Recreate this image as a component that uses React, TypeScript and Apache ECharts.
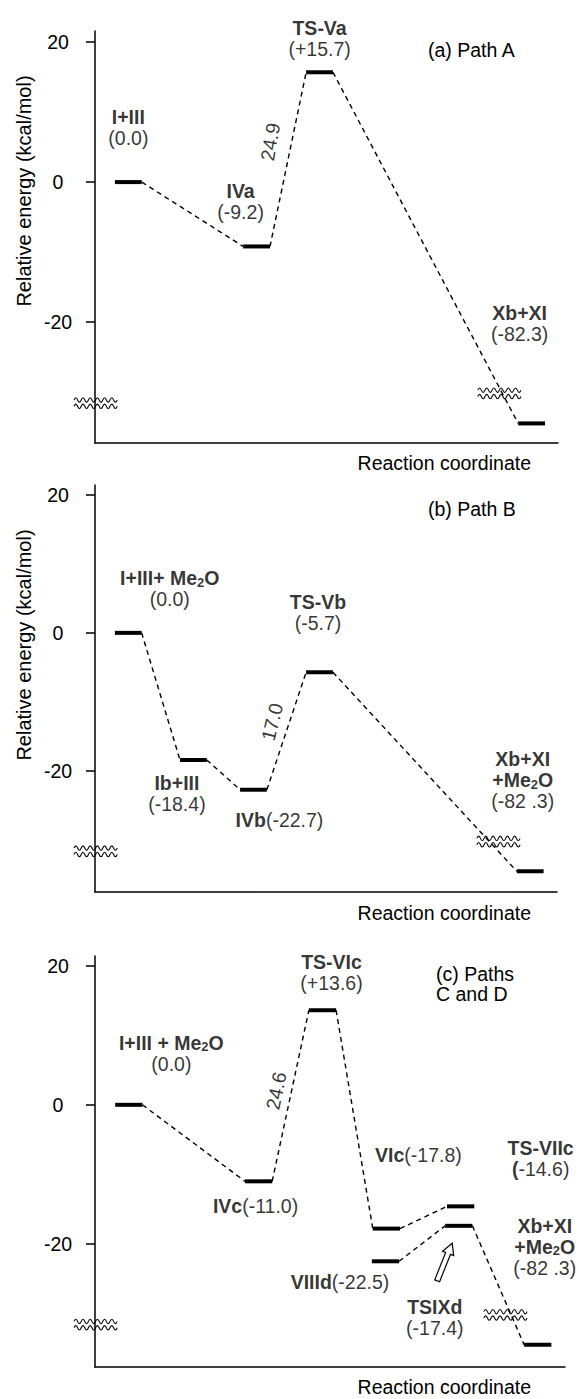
import React, { useEffect, useRef } from "react";
import * as echarts from "echarts";

const FONT = '"Liberation Sans", Arial, Helvetica, sans-serif';
const FS = 19.5;
const LH = 21;

// ---------- shared axis data ----------
const Y_TICKS = [-20, 0, 20];
const X_NAME = "Reaction coordinate";
const Y_NAME = "Relative energy (kcal/mol)";
const BREAK_PLOT_Y = -34.5; // where the off-scale products (-82.3) sit below the axis break
const LEVEL_WIDTH = 5.8; // reaction-coordinate width of each level

// ---------- (a) Path A ----------
const A_NAMES = ["I+III", "IVa", "TS-Va", "Xb+XI"];
const A_ENERGY = [0.0, -9.2, 15.7, -82.3];
const A_STAGE = [4.3, 32.0, 45.6, 91.4];
const A_LINKS = [[0, 1], [1, 2], [2, 3]];
const A_BARRIER = { from: 1, to: 2, text: "24.9" };
const A_TITLE = "(a) Path A";

// ---------- (b) Path B ----------
const B_NAMES = ["I+III+ Me2O", "Ib+III", "IVb", "TS-Vb", "Xb+XI\n+Me2O"];
const B_ENERGY = [0.0, -18.4, -22.7, -5.7, -82.3];
const B_STAGE = [4.3, 18.4, 31.4, 45.7, 91.3];
const B_LINKS = [[0, 1], [1, 2], [2, 3], [3, 4]];
const B_BARRIER = { from: 2, to: 3, text: "17.0" };
const B_TITLE = "(b) Path B";

// ---------- (c) Paths C and D ----------
const C_NAMES = ["I+III + Me2O", "IVc", "TS-VIc", "VIc", "VIIId", "TS-VIIc", "TSIXd", "Xb+XI\n+Me2O"];
const C_ENERGY = [0.0, -11.0, 13.6, -17.8, -22.5, -14.6, -17.4, -82.3];
const C_STAGE = [4.3, 31.9, 45.5, 59.1, 58.9, 74.9, 74.5, 91.3];
const C_LINKS = [[0, 1], [1, 2], [2, 3], [3, 5], [4, 6], [6, 7]];
const C_BARRIER = { from: 1, to: 2, text: "24.6" };
const C_TITLE = "(c) Paths\nC and D";

// axis-break marks (reaction coordinate, energy on the drawn scale)
const BREAKS = [[0, -31.6], [87.2, -30.2]];
// hollow arrow pointing at TSIXd (panel c), in axis units
const ARROW_C = [72.8, -25.3, 76.0, -19.9];

// ---------- layout (positions / styles only) ----------
const A_LABEL = [
  { mode: "stack", off: [0, -55] },
  { mode: "stack", off: [-16, -45] },
  { mode: "stack", off: [0, -34] },
  { mode: "stack", off: [-12, -100] },
];
const B_LABEL = [
  { mode: "stack", off: [41.5, -44] },
  { mode: "stack", off: [-16.5, 33] },
  { mode: "inline", off: [26, 30] },
  { mode: "stack", off: [-1.5, -59.5] },
  { mode: "stack", off: [-7.5, -91], gap: true },
];
const C_LABEL = [
  { mode: "stack", off: [42.5, -51.5] },
  { mode: "inline", off: [-3, 24.5] },
  { mode: "stack", off: [9, -38] },
  { mode: "inline", off: [32, -73.7] },
  { mode: "inline", off: [-45.5, 20.6] },
  { mode: "stack", off: [80, -48], boldParen: true },
  { mode: "stack", off: [-24, 92] },
  { mode: "stack", off: [7, -98], gap: true },
];

const PANELS = [
  {
    names: A_NAMES, energy: A_ENERGY, stage: A_STAGE, links: A_LINKS, barrier: A_BARRIER,
    labels: A_LABEL, barrierOff: [-18, -17.5], barrierRot: 80,
    grid: { left: 95, top: 31, width: 463, height: 412 }, yMin: -37.3, yMax: 21.6,
    title: A_TITLE, titlePos: [428, 50], xNameY: 463, yName: true, yNamePos: [24, 191],
  },
  {
    names: B_NAMES, energy: B_ENERGY, stage: B_STAGE, links: B_LINKS, barrier: B_BARRIER,
    labels: B_LABEL, barrierOff: [-14.5, -9], barrierRot: 76,
    grid: { left: 95, top: 485, width: 462, height: 407 }, yMin: -37.5, yMax: 21.4,
    title: B_TITLE, titlePos: [428, 509], xNameY: 913, yName: true, yNamePos: [24, 645],
  },
  {
    names: C_NAMES, energy: C_ENERGY, stage: C_STAGE, links: C_LINKS, barrier: C_BARRIER,
    labels: C_LABEL, barrierOff: [-14.5, -5], barrierRot: 78,
    grid: { left: 95, top: 956, width: 470, height: 411 }, yMin: -37.7, yMax: 21.4,
    title: C_TITLE, titlePos: [436, 984], xNameY: 1387, yName: false, yNamePos: [24, 0],
  },
];

const RICH = {
  b: { fontFamily: FONT, fontWeight: "bold", fontSize: FS, lineHeight: LH, color: "#000" },
  n: { fontFamily: FONT, fontWeight: "normal", fontSize: FS, lineHeight: LH, color: "#000" },
  s: { fontFamily: FONT, fontWeight: "bold", fontSize: 13, lineHeight: 13, verticalAlign: "bottom", color: "#000" },
};

function richBold(t: string): string {
  const parts = t.split("Me2O");
  return parts.map((p) => (p ? `{b|${p}}` : "")).join("{b|Me}{s|2}{b|O}");
}

function valueText(e: number, opt: any): string {
  let s = e > 0 ? `+${e.toFixed(1)}` : e.toFixed(1);
  if (opt.gap) s = s.replace(".", " .");
  if (opt.boldParen) return `{b|(}{n|${s})}`;
  return `{n|(${s})}`;
}

function labelText(name: string, e: number, opt: any): string {
  if (opt.mode === "inline") return richBold(name) + valueText(e, opt);
  const lines = name.split("\n").map(richBold);
  lines.push(valueText(e, opt));
  return lines.join("\n");
}

// label offsets are applied in the rotated frame: convert a screen offset
function rotatedOffset(off: number[], deg: number): number[] {
  const t = (deg * Math.PI) / 180;
  const c = Math.cos(t), s = Math.sin(t);
  return [off[0] * c - off[1] * s, off[0] * s + off[1] * c];
}

function wavePath(): string {
  const w = 42, half = 3.6, amp = 2.2;
  let d = "";
  [-3.2, 3.2].forEach((oy) => {
    let x = -w / 2;
    let up = true;
    d += `M${x},${oy}`;
    while (x < w / 2 - 0.01) {
      d += ` Q${x + half / 2},${oy + (up ? -amp * 2 : amp * 2)} ${x + half},${oy}`;
      x += half;
      up = !up;
    }
    d += " ";
  });
  return d;
}
const WAVE_D = wavePath();

function buildOption() {
  const grid: any[] = [];
  const xAxis: any[] = [];
  const yAxis: any[] = [];
  const series: any[] = [];
  const graphic: any[] = [];

  PANELS.forEach((P, p) => {
    grid.push({ ...P.grid, containLabel: false, outerBoundsMode: "none" });
    xAxis.push({
      gridIndex: p, type: "value", min: 0, max: 100,
      axisLine: { show: true, onZero: false, lineStyle: { color: "#000", width: 1.5 } },
      axisTick: { show: false }, axisLabel: { show: false }, splitLine: { show: false },
    });
    yAxis.push({
      gridIndex: p, type: "value", min: P.yMin, max: P.yMax,
      axisLine: { show: true, onZero: false, lineStyle: { color: "#000", width: 1.5 } },
      axisTick: { show: true, inside: false, length: 9, customValues: Y_TICKS, lineStyle: { color: "#000", width: 1.5 } },
      axisLabel: {
        show: true, customValues: Y_TICKS, formatter: (v: number) => String(v),
        align: "center", margin: 37, color: "#000", fontSize: FS, fontFamily: FONT,
      },
      splitLine: { show: false },
    });

    const plotY = P.energy.map((e) => (e < P.yMin ? BREAK_PLOT_Y : e));
    const texts = P.names.map((n, i) => labelText(n, P.energy[i], P.labels[i]));

    // dashed connectors
    series.push({
      type: "custom", xAxisIndex: p, yAxisIndex: p, silent: true, clip: false, z: 2,
      data: P.links.map(([i, j]) => [P.stage[i] + LEVEL_WIDTH, plotY[i], P.stage[j], plotY[j]]),
      encode: { x: [0, 2], y: [1, 3] },
      renderItem: (params: any, api: any) => {
        const a = api.coord([api.value(0), api.value(1)]);
        const b = api.coord([api.value(2), api.value(3)]);
        return {
          type: "line",
          shape: { x1: a[0], y1: a[1], x2: b[0], y2: b[1] },
          style: { stroke: "#000", lineWidth: 1.4, lineDash: [5, 4], fill: "none" },
        };
      },
    });

    // energy levels
    series.push({
      type: "custom", xAxisIndex: p, yAxisIndex: p, silent: true, clip: false, z: 3,
      data: P.stage.map((x, i) => [x, x + LEVEL_WIDTH, plotY[i]]),
      encode: { x: [0, 1], y: 2 },
      renderItem: (params: any, api: any) => {
        const a = api.coord([api.value(0), api.value(2)]);
        const b = api.coord([api.value(1), api.value(2)]);
        return {
          type: "line",
          shape: { x1: a[0], y1: a[1], x2: b[0], y2: b[1] },
          style: { stroke: "#000", lineWidth: 4 },
        };
      },
    });

    // axis breaks
    series.push({
      type: "custom", xAxisIndex: p, yAxisIndex: p, silent: true, clip: false, z: 4,
      data: BREAKS,
      encode: { x: 0, y: 1 },
      renderItem: (params: any, api: any) => {
        const c = api.coord([api.value(0), api.value(1)]);
        return {
          type: "path", x: c[0], y: c[1],
          shape: { pathData: WAVE_D },
          style: { stroke: "#000", fill: "none", lineWidth: 1.1 },
        };
      },
    });

    // level labels
    series.push({
      type: "scatter", xAxisIndex: p, yAxisIndex: p, silent: true, clip: false, z: 5,
      symbolSize: 1, itemStyle: { color: "rgba(0,0,0,0)" },
      label: {
        show: true, position: "inside", color: "#000", fontFamily: FONT, fontSize: FS, lineHeight: LH,
        rich: RICH, formatter: (prm: any) => texts[prm.dataIndex],
      },
      data: P.stage.map((x, i) => ({
        value: [x + LEVEL_WIDTH / 2, plotY[i]],
        label: { offset: P.labels[i].off },
      })),
    });

    // barrier label
    const bi = P.barrier.from, bj = P.barrier.to;
    series.push({
      type: "scatter", xAxisIndex: p, yAxisIndex: p, silent: true, clip: false, z: 5,
      symbolSize: 1, itemStyle: { color: "rgba(0,0,0,0)" },
      label: {
        show: true, position: "inside", color: "#000", fontFamily: FONT, fontSize: FS,
        rotate: P.barrierRot, offset: rotatedOffset(P.barrierOff, P.barrierRot),
        formatter: () => P.barrier.text,
      },
      data: [[(P.stage[bi] + LEVEL_WIDTH + P.stage[bj]) / 2, (plotY[bi] + plotY[bj]) / 2]],
    });

    // titles & axis names
    graphic.push({
      type: "text", x: P.titlePos[0], y: P.titlePos[1], silent: true,
      style: {
        text: P.title, fill: "#000", fontSize: FS, fontFamily: FONT, lineHeight: 20,
        align: "left", verticalAlign: "middle", textAlign: "left", textVerticalAlign: "middle",
      },
    });
    graphic.push({
      type: "text", x: 531, y: P.xNameY, silent: true,
      style: {
        text: X_NAME, fill: "#000", fontSize: FS, fontFamily: FONT,
        align: "right", verticalAlign: "middle", textAlign: "right", textVerticalAlign: "middle",
      },
    });
    if (P.yName) {
      graphic.push({
        type: "text", x: P.yNamePos[0], y: P.yNamePos[1], rotation: Math.PI / 2, silent: true,
        style: {
          text: Y_NAME, fill: "#000", fontSize: 20, fontFamily: FONT,
          align: "center", verticalAlign: "middle", textAlign: "center", textVerticalAlign: "middle",
        },
      });
    }
  });

  // hollow arrow to TSIXd (panel c)
  series.push({
    type: "custom", xAxisIndex: 2, yAxisIndex: 2, silent: true, clip: false, z: 6,
    data: [ARROW_C],
    encode: { x: [0, 2], y: [1, 3] },
    renderItem: (params: any, api: any) => {
      const t = api.coord([api.value(0), api.value(1)]);
      const h = api.coord([api.value(2), api.value(3)]);
      const dx = h[0] - t[0], dy = h[1] - t[1];
      const L = Math.sqrt(dx * dx + dy * dy);
      const ux = dx / L, uy = dy / L;
      const nx = -uy, ny = ux;
      const sw = 2.6, hw = 6, hl = 11;
      const bx = h[0] - ux * hl, by = h[1] - uy * hl;
      const pts = [
        [t[0] + nx * sw, t[1] + ny * sw],
        [bx + nx * sw, by + ny * sw],
        [bx + nx * hw, by + ny * hw],
        [h[0], h[1]],
        [bx - nx * hw, by - ny * hw],
        [bx - nx * sw, by - ny * sw],
        [t[0] - nx * sw, t[1] - ny * sw],
      ];
      return {
        type: "polygon",
        shape: { points: pts },
        style: { fill: "#fff", stroke: "#000", lineWidth: 1.2 },
      };
    },
  });

  return {
    animation: false,
    backgroundColor: "#fff",
    textStyle: { fontFamily: FONT },
    grid, xAxis, yAxis, series, graphic,
  };
}

export default function App() {
  const ref = useRef<HTMLDivElement | null>(null);
  useEffect(() => {
    if (!ref.current) return;
    const chart = echarts.init(ref.current, undefined, { renderer: "svg" });
    chart.setOption(buildOption() as any);
    return () => chart.dispose();
  }, []);
  return (
    <div
      ref={ref}
      style={{ position: "absolute", left: 0, top: 0, width: 579, height: 1399, background: "#fff" }}
    />
  );
}
